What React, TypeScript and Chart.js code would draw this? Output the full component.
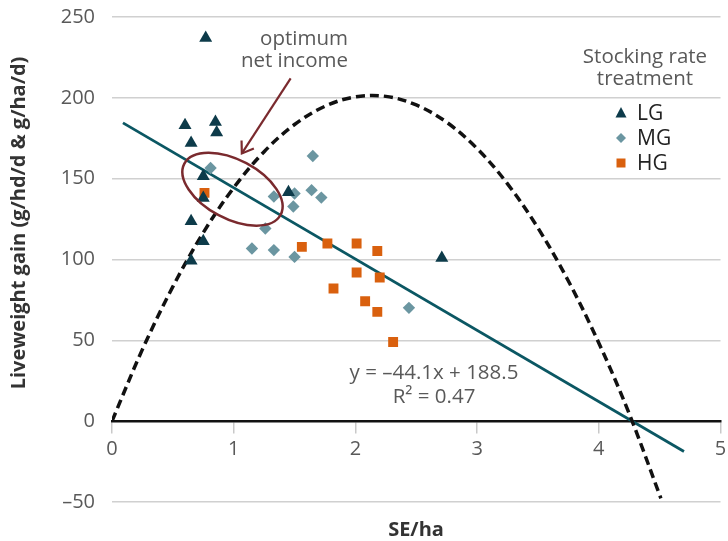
import React, { useEffect, useRef } from 'react';
import { Chart, registerables } from 'chart.js';

Chart.register(...registerables);

const FONT = "'Open Sans', sans-serif";

// ---- data ----
const LG_X = [0.77, 0.6, 0.85, 0.86, 0.65, 0.75, 0.75, 0.65, 0.75, 0.65, 1.45, 2.71];
const LG_Y = [237, 183, 185, 178.5, 172, 151.5, 138, 123.7, 111.3, 99.3, 141.6, 101];
const MG_X = [0.81, 1.65, 1.33, 1.5, 1.64, 1.72, 1.49, 1.26, 1.15, 1.33, 1.5, 2.44];
const MG_Y = [156.6, 164, 139, 140.8, 142.9, 138.3, 132.8, 119.2, 106.8, 105.8, 101.6, 70.1];
const HG_X = [0.76, 1.56, 1.77, 2.01, 2.18, 2.01, 2.2, 1.82, 2.08, 2.18, 2.31];
const HG_Y = [141.2, 107.8, 109.9, 109.9, 105.3, 92, 88.9, 82.1, 74.2, 67.6, 49];
const TREND_X = [0.09, 4.7];
const TREND_Y = [184.5, -18.8];
const CURVE_X = [0, 0.25, 0.5, 0.75, 1, 1.25, 1.5, 1.75, 2, 2.25, 2.5, 2.75, 3, 3.25, 3.5, 3.75, 4, 4.25, 4.51];
const CURVE_Y = [0, 44.4, 83.2, 116.6, 144.4, 166.7, 183.5, 194.8, 200.6, 200.9, 195.6, 184.9, 168.6, 146.8, 119.5, 86.7, 48.4, 4.6, -47.7];
const X_TICKS = [0, 1, 2, 3, 4, 5];
const X_TICK_LABELS = ['0', '1', '2', '3', '4', '5'];
const Y_TICKS = [-50, 0, 50, 100, 150, 200, 250];
const Y_TICK_LABELS = ['–50', '0', '50', '100', '150', '200', '250'];
const SERIES_NAMES = ['LG', 'MG', 'HG'];
const LEGEND_TITLE = ['Stocking rate', 'treatment'];
const CALLOUT_LINES = ['optimum', 'net income'];
const EQUATION_LINES = ['y = –44.1x + 188.5', 'R² = 0.47'];
const X_TITLE = 'SE/ha';
const Y_TITLE = 'Liveweight gain (g/hd/d & g/ha/d)';

// annotation anchors (data units)
const ELLIPSE_CENTER = [0.99, 143.5];
const ARROW_FROM = [1.468, 212];
const ARROW_TO = [1.067, 165.6];

// ---- styles ----
const C_LG = '#0d3b4a';
const C_MG = '#6b96a1';
const C_HG = '#d9600e';
const C_TREND = '#0b5763';
const C_RED = '#7a2a2e';
const C_TEXT = '#595959';
const C_DARK = '#222222';

const toPts = (xs: number[], ys: number[]) => xs.map((x, i) => ({ x, y: ys[i] }));

function drawMarker(ctx: CanvasRenderingContext2D, kind: string, cx: number, cy: number, s: number, color: string) {
  ctx.fillStyle = color;
  ctx.beginPath();
  if (kind === 'tri') {
    ctx.moveTo(cx, cy - s * 0.6);
    ctx.lineTo(cx + s * 0.55, cy + s * 0.45);
    ctx.lineTo(cx - s * 0.55, cy + s * 0.45);
  } else if (kind === 'dia') {
    ctx.moveTo(cx, cy - s * 0.5);
    ctx.lineTo(cx + s * 0.5, cy);
    ctx.lineTo(cx, cy + s * 0.5);
    ctx.lineTo(cx - s * 0.5, cy);
  } else {
    ctx.rect(cx - s * 0.45, cy - s * 0.45, s * 0.9, s * 0.9);
  }
  ctx.closePath();
  ctx.fill();
}

const annotations = {
  id: 'annotations',
  afterDatasetsDraw(chart: any) {
    const { ctx } = chart;
    const xs = chart.scales.x;
    const ys = chart.scales.y;
    ctx.save();
    ctx.strokeStyle = C_RED;
    ctx.lineWidth = 2.5;
    ctx.beginPath();
    ctx.ellipse(
      xs.getPixelForValue(ELLIPSE_CENTER[0]),
      ys.getPixelForValue(ELLIPSE_CENTER[1]),
      54.5, 29.5, (28 * Math.PI) / 180, 0, Math.PI * 2
    );
    ctx.stroke();
    const fx = xs.getPixelForValue(ARROW_FROM[0]);
    const fy = ys.getPixelForValue(ARROW_FROM[1]);
    const tx = xs.getPixelForValue(ARROW_TO[0]);
    const ty = ys.getPixelForValue(ARROW_TO[1]);
    ctx.lineWidth = 2.2;
    ctx.beginPath();
    ctx.moveTo(fx, fy);
    ctx.lineTo(tx, ty);
    ctx.stroke();
    const ang = Math.atan2(ty - fy, tx - fx);
    const hl = 13;
    const ha = 0.6;
    ctx.beginPath();
    ctx.moveTo(tx - hl * Math.cos(ang - ha), ty - hl * Math.sin(ang - ha));
    ctx.lineTo(tx, ty);
    ctx.lineTo(tx - hl * Math.cos(ang + ha), ty - hl * Math.sin(ang + ha));
    ctx.stroke();
    ctx.restore();
  },
  afterDraw(chart: any) {
    const { ctx } = chart;
    ctx.save();
    ctx.textBaseline = 'alphabetic';
    // callout
    ctx.font = `20.5px ${FONT}`;
    ctx.fillStyle = C_TEXT;
    ctx.textAlign = 'right';
    ctx.fillText(CALLOUT_LINES[0], 348, 45);
    ctx.fillText(CALLOUT_LINES[1], 348, 67);
    // equation
    ctx.textAlign = 'center';
    ctx.fillText(EQUATION_LINES[0], 434, 379);
    ctx.fillText(EQUATION_LINES[1], 434, 403);
    // legend title
    ctx.fillText(LEGEND_TITLE[0], 645, 63);
    ctx.fillText(LEGEND_TITLE[1], 645, 85);
    // legend items
    const kinds = ['tri', 'dia', 'sq'];
    const cols = [C_LG, C_MG, C_HG];
    ctx.font = `21px ${FONT}`;
    ctx.textAlign = 'left';
    SERIES_NAMES.forEach((n, i) => {
      const base = 120 + i * 25;
      drawMarker(ctx, kinds[i], 621, base - 7, 10, cols[i]);
      ctx.fillStyle = C_DARK;
      ctx.fillText(n, 637, base);
    });
    // axis titles
    ctx.fillStyle = '#333333';
    ctx.font = `bold 20px ${FONT}`;
    ctx.textAlign = 'center';
    ctx.fillText(X_TITLE, 416, 536);
    ctx.translate(19, 223);
    ctx.rotate(-Math.PI / 2);
    ctx.textBaseline = 'middle';
    ctx.fillText(Y_TITLE, 0, 0);
    ctx.restore();
  },
};

export default function App() {
  const ref = useRef<HTMLCanvasElement | null>(null);
  useEffect(() => {
    document.body.style.margin = '0';
    if (!ref.current) return;
    const chart = new Chart(ref.current, {
      type: 'scatter',
      data: {
        datasets: [
          {
            label: SERIES_NAMES[0],
            data: toPts(LG_X, LG_Y),
            pointStyle: 'triangle',
            pointRadius: 7.5,
            backgroundColor: C_LG,
            borderColor: C_LG,
            borderWidth: 0,
            order: 0,
          },
          {
            label: SERIES_NAMES[1],
            data: toPts(MG_X, MG_Y),
            pointStyle: 'rectRot',
            pointRadius: 6.2,
            backgroundColor: C_MG,
            borderColor: C_MG,
            borderWidth: 0,
            order: 0,
          },
          {
            label: SERIES_NAMES[2],
            data: toPts(HG_X, HG_Y),
            pointStyle: 'rect',
            pointRadius: 7,
            backgroundColor: C_HG,
            borderColor: C_HG,
            borderWidth: 0,
            order: 0,
          },
          {
            label: 'trend',
            data: toPts(TREND_X, TREND_Y),
            showLine: true,
            pointRadius: 0,
            borderColor: C_TREND,
            borderWidth: 2.8,
            order: 2,
          },
          {
            label: 'income',
            data: toPts(CURVE_X, CURVE_Y),
            showLine: true,
            pointRadius: 0,
            borderColor: '#111111',
            borderWidth: 3.5,
            borderDash: [9, 5],
            tension: 0.35,
            order: 1,
          },
        ],
      },
      options: {
        responsive: false,
        animation: false,
        devicePixelRatio: 1,
        layout: { padding: { left: 0, right: 2, top: 17, bottom: 39 } },
        plugins: { legend: { display: false }, tooltip: { enabled: false } },
        scales: {
          x: {
            type: 'linear',
            position: { y: 0 } as any,
            min: 0,
            max: 5,
            afterBuildTicks: (s: any) => {
              s.ticks = X_TICKS.map((v) => ({ value: v }));
            },
            afterFit: (s: any) => {
              s.paddingLeft = 0;
              s.paddingRight = 0;
              s.paddingTop = 0;
              s.paddingBottom = 0;
            },
            ticks: {
              color: C_TEXT,
              font: { size: 20, family: FONT },
              padding: 5,
              maxRotation: 0,
              autoSkip: false,
              callback: (_v: any, i: number) => X_TICK_LABELS[i],
            },
            grid: {
              drawOnChartArea: false,
              drawTicks: true,
              tickLength: 11,
              color: '#c9c9c9',
              lineWidth: 1.5,
            },
            border: { display: true, color: '#111111', width: 2.5 },
          },
          y: {
            type: 'linear',
            min: -50,
            max: 250,
            afterBuildTicks: (s: any) => {
              s.ticks = Y_TICKS.map((v) => ({ value: v }));
            },
            afterFit: (s: any) => {
              s.width = 112;
              s.paddingTop = 0;
              s.paddingBottom = 0;
            },
            ticks: {
              color: C_TEXT,
              font: { size: 20, family: FONT },
              padding: 17,
              callback: (_v: any, i: number) => Y_TICK_LABELS[i],
            },
            grid: {
              drawTicks: false,
              color: (c: any) => (c.tick && c.tick.value === 0 ? 'rgba(0,0,0,0)' : '#d0d0d0'),
              lineWidth: 1.5,
            },
            border: { display: false },
          },
        },
      },
      plugins: [annotations],
    });
    return () => chart.destroy();
  }, []);
  return (
    <div style={{ width: 728, height: 541 }}>
      <canvas ref={ref} width={728} height={541} />
    </div>
  );
}
